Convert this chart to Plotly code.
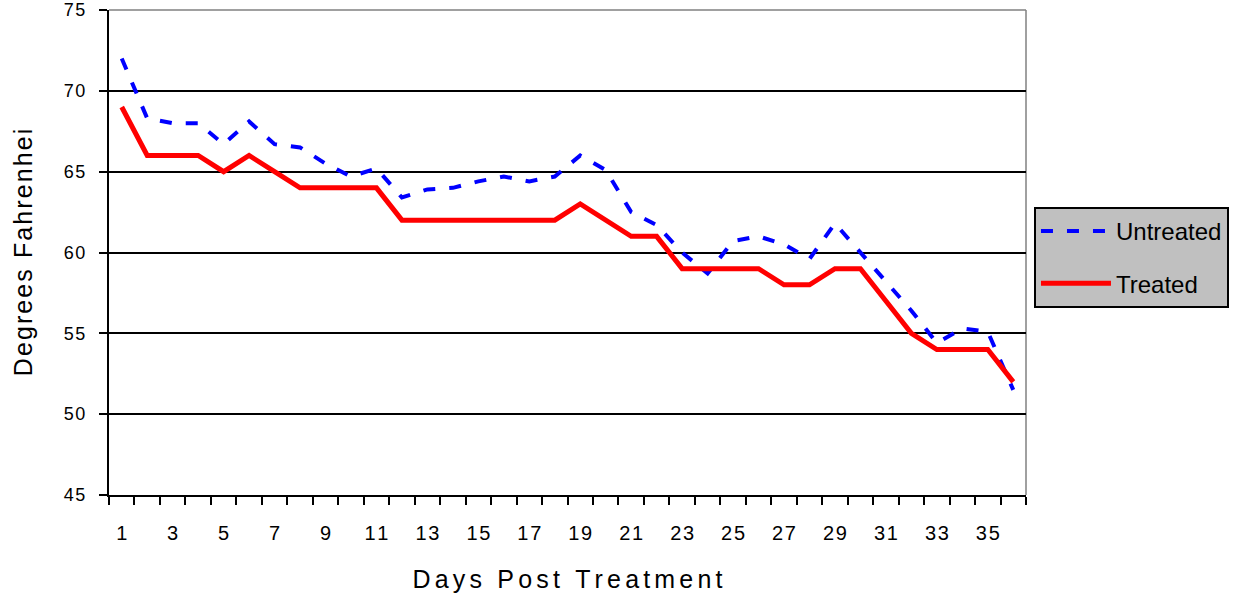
import plotly.graph_objects as go

days = list(range(1, 37))
untreated = [72.0, 68.3, 68.0, 68.0, 66.7, 68.1, 66.7, 66.5, 65.5, 64.7, 65.2, 63.4,
             63.9, 64.0, 64.4, 64.7, 64.4, 64.7, 66.0, 65.1, 62.5, 61.7, 60.0, 58.7,
             60.7, 61.0, 60.5, 59.6, 61.8, 60.0, 58.2, 56.4, 54.4, 55.3, 55.1, 51.5]
treated = [69, 66, 66, 66, 65, 66, 65, 64, 64, 64, 64, 62,
           62, 62, 62, 62, 62, 62, 63, 62, 61, 61, 59, 59,
           59, 59, 58, 58, 59, 59, 57, 55, 54, 54, 54, 52]
x_tick_vals = list(range(1, 37, 2))
x_tick_text = [str(v) for v in x_tick_vals]
y_tick_vals = [45, 50, 55, 60, 65, 70, 75]
y_tick_text = [str(v) for v in y_tick_vals]
grid_vals = [50, 55, 60, 65, 70]

FONT = "Liberation Sans, Arial, sans-serif"
HAIR = "\u200a"

def spaced(s, sep):
    return sep.join(list(s))

fig = go.Figure()
fig.add_trace(go.Scatter(x=days, y=untreated, mode="lines", name="Untreated",
                         legendgroup="a",
                         line=dict(color="#0000ff", width=4, dash="12px,14px")))
fig.add_trace(go.Scatter(x=days, y=treated, mode="lines", name="Treated",
                         legendgroup="b",
                         line=dict(color="#ff0000", width=5)))

fig.update_layout(
    width=1239, height=593,
    margin=dict(l=109, r=209, t=10, b=98),
    paper_bgcolor="white", plot_bgcolor="white",
    font=dict(family=FONT, color="black"),
    showlegend=True,
    legend=dict(x=1.0087, y=0.594, xanchor="left", yanchor="top",
                bgcolor="#c0c0c0", bordercolor="black", borderwidth=2,
                font=dict(size=24, family=FONT, color="black"),
                tracegroupgap=18, itemwidth=70),
    xaxis=dict(range=[0.5, 36.5], tickmode="array", tickvals=x_tick_vals,
               ticktext=[spaced(t, HAIR) for t in x_tick_text], ticks="",
               ticklabelstandoff=19, automargin=False,
               showline=True, linecolor="black", linewidth=2,
               showgrid=False, zeroline=False,
               tickfont=dict(size=20, family=FONT),
               title=dict(text=spaced("Days Post Treatment", HAIR + HAIR),
                          font=dict(size=25, family=FONT), standoff=27),
               minor=dict(tickmode="linear", tick0=0.5, dtick=1, ticks="outside",
                          ticklen=8, tickwidth=2, tickcolor="black", showgrid=False)),
    yaxis=dict(range=[45, 75], tickmode="array", tickvals=y_tick_vals,
               ticktext=[spaced(t, HAIR) for t in y_tick_text],
               ticks="outside", ticklen=8, tickwidth=2, tickcolor="black",
               ticklabelstandoff=10, automargin=False,
               showline=True, linecolor="black", linewidth=2,
               showgrid=False, zeroline=False,
               tickfont=dict(size=18, family=FONT),
               title=dict(text=spaced("Degrees Fahrenhei", HAIR),
                          font=dict(size=25, family=FONT), standoff=24),
               minor=dict(tickmode="array", tickvals=grid_vals, showgrid=True,
                          gridcolor="black", gridwidth=2, ticks="")),
    shapes=[
        dict(type="line", xref="paper", yref="paper", x0=0, x1=1, y0=1, y1=1,
             line=dict(color="#808080", width=1.5), layer="below"),
        dict(type="line", xref="paper", yref="paper", x0=1, x1=1, y0=0, y1=1,
             line=dict(color="#808080", width=1.5), layer="below"),
    ],
)

fig.write_html("out.html", config={"displayModeBar": False},
               post_script="document.body.style.margin='0';")
